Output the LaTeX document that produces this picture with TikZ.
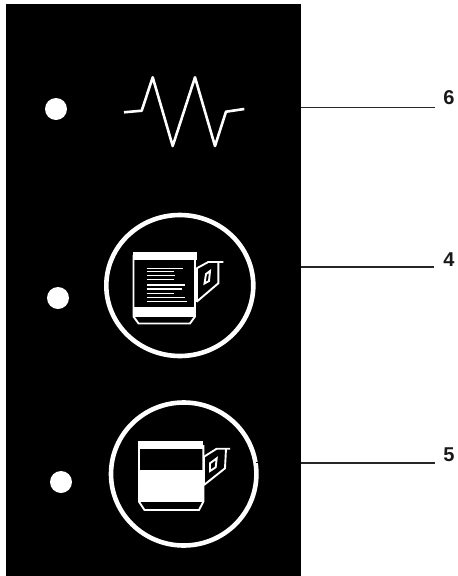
\documentclass[tikz,border=0pt]{standalone}
\usepackage{fontspec}
\setmainfont{Liberation Sans}
\tikzset{
  x=1pt,y=-1pt,
  leader/.style={draw=black!85,line width=1.2pt},
  numlabel/.style={inner sep=0pt,font=\fontsize{20}{20}\selectfont\bfseries,text=black!90},
  ring/.style={draw=white,line width=4.6pt},
  lamp/.style={fill=white},
  wave/.style={draw=white,line width=2.6pt,line join=round},
  cupline/.style={draw=white,line width=1.9pt,line join=miter},
  cupfill/.style={fill=white},
  textline/.style={draw=white,line width=1.5pt}
}
\begin{document}
\begin{tikzpicture}
\useasboundingbox (0,0) rectangle (458,576);
\fill[white] (0,0) rectangle (458,576);
\fill[black] (6,4) rectangle (301,576);
\coordinate (panelE) at (301,300);
% indicator lamps
\fill[lamp] (56,109) circle [radius=11pt];
\fill[lamp] (58,298) circle [radius=11pt];
\fill[lamp] (61,482) circle [radius=11pt];
% waveform symbol
\draw[wave] (124,112.3) -- (141.7,110.7) -- (152.7,77.3) -- (172.7,146) -- (195,77.3) -- (215,146) -- (226,111.7) -- (244.3,109);
% first cup
\draw[ring] (179.8,285.5) ellipse [x radius=73.5pt,y radius=70.5pt];
\fill[cupfill] (132.5,252.3) rectangle (196.7,260);
\fill[cupfill] (133.5,306.7) rectangle (195,316.5);
\draw[cupline] (133.5,255) -- (133.5,316.5) -- (138.5,323.5) -- (190,323.5) -- (195,316.5) -- (195,255);
\foreach \yy/\xx in {268.3/182.7,271.7/174,275.7/175,279.7/174,285/185,289/181.7,293.7/174,297.7/185,301.7/187.3}
  \draw[textline] (146.7,\yy) -- (\xx,\yy);
\draw[cupline] (196.7,268.3) -- (208.3,262) -- (223.3,262);
\draw[cupline] (218.3,262) -- (218.3,283.3) -- (196.7,301.7);
\draw[cupline] (196.7,268.3) -- (196.7,301.7);
\draw[cupline] (206,274) -- (210,271) -- (209,281) -- (204.5,283.5) -- cycle;
% second cup
\draw[ring] (183.7,474) ellipse [x radius=72.7pt,y radius=71.5pt];
\fill[cupfill] (138.3,440.7) rectangle (203.3,449.3);
\fill[cupfill] (138.3,470) rectangle (203.3,501.7);
\draw[cupline] (139,445) -- (139,501.7) -- (144.5,510) -- (199,510) -- (203.3,501.7) -- (203.3,445);
\draw[cupline] (204,456.7) -- (216.7,448.7) -- (230,448.7);
\draw[cupline] (226,448.7) -- (225,468.3) -- (204,485);
\draw[cupline] (204,456.7) -- (204,485);
\draw[cupline] (210,463.3) -- (216.7,458.3) -- (215.7,467.3) -- (210,471) -- cycle;
\draw[black,line width=0.8pt] (255.5,462.5) -- (259,462.5);
% leaders and numbers
\coordinate (end6) at (435,107.3);
\coordinate (end4) at (434,267);
\coordinate (end5) at (434.7,463);
\node[numlabel] (num6) at (449,98) {6};
\node[numlabel] (num4) at (449,260) {4};
\node[numlabel] (num5) at (449,455) {5};
\draw[leader] (panelE |- end6) -- (end6);
\draw[leader] (panelE |- end4) -- (end4);
\draw[leader] (panelE |- end5) -- (end5);
\end{tikzpicture}
\end{document}
